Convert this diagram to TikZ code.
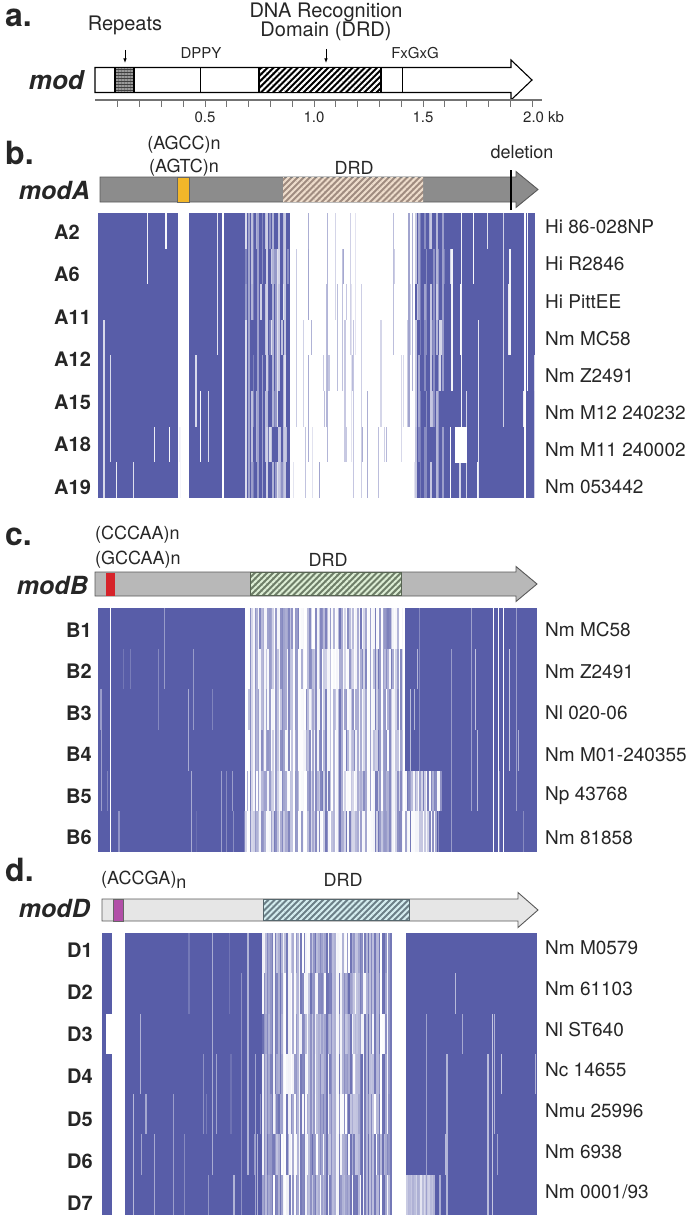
\documentclass[tikz,border=0pt]{standalone}
\usepackage{fontspec}
\setmainfont{TeX Gyre Heros}
\usetikzlibrary{arrows.meta,positioning,patterns.meta}

\definecolor{hmblue}{RGB}{88,93,168}
\definecolor{modAgray}{RGB}{140,140,140}
\definecolor{modBgray}{RGB}{184,184,184}
\definecolor{modDgray}{RGB}{230,230,230}
\definecolor{rptyellow}{RGB}{242,183,42}
\definecolor{rptred}{RGB}{214,35,42}
\definecolor{rptmagenta}{RGB}{178,79,168}
\definecolor{drdA}{RGB}{160,140,128}
\definecolor{drdAline}{RGB}{238,221,204}
\definecolor{drdB}{RGB}{110,126,104}
\definecolor{drdBline}{RGB}{221,238,213}
\definecolor{drdD}{RGB}{108,128,136}
\definecolor{drdDline}{RGB}{213,238,240}

% gene arrow: x0, head base, tip, y centre, body half, head half, style
\newcommand{\genearrow}[7]{%
  \draw[#7] (#1,{#4-#5}) -- (#2,{#4-#5}) -- (#2,{#4-#6}) -- (#3,#4)
    -- (#2,{#4+#6}) -- (#2,{#4+#5}) -- (#1,{#4+#5}) -- cycle;}

% alignment columns: x0, x1, y0, rows, row height, column width, level expression
\newcommand{\hmcells}[7]{%
  \pgfmathsetmacro{\hmnext}{#1+#6}%
  \pgfmathsetmacro{\hmlast}{#2-#6}%
  \foreach \cx in {#1,\hmnext,...,\hmlast} {
    \pgfmathsetmacro{\hmlev}{#7}
    \foreach \rr in {1,...,#4} {
      \pgfmathsetmacro{\hmv}{rnd<0.3 ? (#7) : \hmlev}
      \pgfmathtruncatemacro{\hmpc}{100*max(0,min(1,\hmv))}
      \fill[hmblue!\hmpc!white] (\cx,{#3+(\rr-1)*#5}) rectangle ++(#6,#5);
    }
  }}

% single lines: x0, x1, y0, rows, row height, count, level expression
\newcommand{\hmlines}[7]{%
  \foreach \ln in {1,...,#6} {
    \pgfmathsetmacro{\lx}{#1+rnd*(#2-#1)}
    \pgfmathtruncatemacro{\lr}{rnd*#4}
    \pgfmathtruncatemacro{\ls}{1+rnd*(#4-\lr)}
    \pgfmathsetmacro{\lw}{0.6+rnd}
    \pgfmathtruncatemacro{\lpc}{100*max(0,min(1,#7))}
    \fill[hmblue!\lpc!white] (\lx,{#3+\lr*#5}) rectangle ++(\lw,{\ls*#5});
  }}

\begin{document}
\begin{tikzpicture}[x=1pt, y=-1pt,
  lbl/.style={inner sep=0pt, text=black!85, font=\fontsize{18}{19}\selectfont},
  small/.style={lbl, font=\fontsize{15}{17}\selectfont},
  panel/.style={inner sep=0pt, anchor=west, text=black!85, font=\fontsize{32}{34}\selectfont\bfseries},
  gene/.style={inner sep=0pt, anchor=east, text=black!85, font=\fontsize{25}{27}\selectfont\bfseries\itshape},
  row/.style={inner sep=0pt, anchor=west, text=black!85, font=\fontsize{20}{22}\selectfont\bfseries},
  strain/.style={inner sep=0pt, anchor=west, text=black!85, font=\fontsize{19}{21}\selectfont},
  arr/.style={-{Latex[length=4.5pt,width=3.5pt]}, line width=0.8pt},
  hatch/.style={preaction={fill=#1}, pattern={Lines[angle=45,distance=4.3pt,line width=2pt]}},
  hstripe/.style={preaction={fill=#1}, pattern={Lines[angle=0,distance=3pt,line width=1.3pt]}}
]
  \useasboundingbox (0,0) rectangle (685,1220);
  \pgfmathsetseed{4711}

  % ---- a. mod
  \node[panel] (pa) at (5,18) {a.};
  \node[lbl, font=\fontsize{20}{22}\selectfont] (rep) at (125,25) {Repeats};
  \node[lbl, font=\fontsize{20}{19}\selectfont, align=center] (drdtxt) at (326,22) {DNA Recognition\\Domain (DRD)};
  \node[small] (dppy) at (201,53) {DPPY};
  \node[small] (fxgxg) at (415,53) {FxGxG};
  \node[gene, font=\fontsize{26}{28}\selectfont\bfseries\itshape] (mod) at (84,80) {mod};
  \genearrow{95}{511}{532}{80}{12.5}{20}{fill=white, line width=1.1pt}
  \path[hstripe=black!75, pattern color=black!40] (115,67.5) rectangle (134,92.5);
  \draw[line width=1.1pt] (115,67.5) rectangle (134,92.5);
  \draw[line width=1pt] (200,67.5) -- (200,92.5);
  \draw[line width=1pt] (402,67.5) -- (402,92.5);
  \path[hatch=black, pattern color=white] (259,67.5) rectangle (381,92.5);
  \draw[line width=1.1pt] (259,67.5) rectangle (381,92.5);
  \coordinate (repin) at (125,63);
  \coordinate (drdin) at (326,63);
  \draw[arr] (125,50) -- (repin);
  \draw[arr] (326,49) -- (drdin);
  % scale
  \draw[black!55, line width=2.5pt] (95,100) -- (542,100);
  \foreach \k in {1,...,20}
    \draw[black!55, line width=0.8pt] ({96+21.8*\k},100) -- ++(0,7);
  \node[small] (s05) at (205,117) {0.5};
  \node[small] (s10) at (314,117) {1.0};
  \node[small] (s15) at (423,117) {1.5};
  \node[small, anchor=west] (s20) at (523,117) {2.0 kb};

  % ---- b. modA
  \node[panel] (pb) at (5,153) {b.};
  \node[lbl] (agcc) at (184,145) {(AGCC)n};
  \node[lbl] (agtc) at (184,168) {(AGTC)n};
  \node[lbl] (drdb) at (354,168) {DRD};
  \node[lbl] (del) at (522,152) {deletion};
  \node[gene] (modA) at (90,190) {modA};
  \genearrow{100}{516}{538}{189.5}{12.5}{18}{fill=modAgray, draw=black!65, line width=0.9pt}
  \fill[rptyellow, draw=black!60, line width=0.6pt] (177,177) rectangle (189,202);
  \path[hatch=drdA, pattern color=drdAline] (283,177.5) rectangle (423,201.5);
  \draw[line width=2.5pt] (511,170) -- (511,210);
  % alignment
  \fill[hmblue] (98,213) rectangle (178,498);
  \fill[hmblue] (189,213) rectangle (222,498);
  \fill[hmblue] (224,213) rectangle (245,498);
  \hmcells{245}{290}{213}{8}{35.6}{1.5}{rnd<0.65 ? 1 : 0.15+0.7*rnd}
  \hmlines{290}{415}{213}{8}{35.6}{45}{0.12+0.45*rnd}
  \hmcells{415}{445}{213}{8}{35.6}{1.5}{rnd<0.6 ? 1 : 0.2+0.6*rnd}
  \fill[hmblue] (445,213) rectangle (535,498);
  \hmlines{98}{245}{213}{8}{35.6}{14}{0.25*rnd}
  \hmlines{445}{535}{213}{8}{35.6}{20}{0.3*rnd}
  \fill[white] (455,427.4) rectangle (467,463);
  \foreach \lab [count=\i from 0] in {A2,A6,A11,A12,A15,A18,A19}
    \node[row] (row\lab) at (54,{232+42.5*\i}) {\lab};
  \foreach \lab [count=\i from 0] in {Hi 86-028NP,Hi R2846,Hi PittEE,Nm MC58,Nm Z2491,Nm M12 240232,Nm M11 240002,Nm 053442}
    \node[strain] (strainA\i) at (545,{227+37.1*\i}) {\lab};

  % ---- c. modB
  \node[panel] (pc) at (5,537) {c.};
  \node[lbl, anchor=west] (cccaa) at (95,535) {(CCCAA)n};
  \node[lbl, anchor=west] (gccaa) at (95,560) {(GCCAA)n};
  \node[lbl] (drdc) at (328,560) {DRD};
  \node[gene] (modB) at (88,585) {modB};
  \genearrow{95}{516}{537}{584}{12}{17.5}{fill=modBgray, draw=black!65, line width=0.9pt}
  \fill[rptred] (106,572.5) rectangle (115,595.5);
  \path[hatch=drdB, pattern color=drdBline] (250,572.5) rectangle (401,595.5);
  \draw[drdB!80!black, line width=0.8pt] (250,572.5) rectangle (401,595.5);
  % alignment
  \fill[hmblue] (98,608) rectangle (245,852);
  \hmcells{245}{405}{608}{6}{40.67}{1.6}{rnd<0.4 ? 0.08*rnd : 0.25+0.6*rnd}
  \fill[hmblue] (405,608) rectangle (537,852);
  \hmcells{405}{443}{770.7}{1}{40.67}{1.6}{rnd<0.4 ? 0.08*rnd : 0.25+0.6*rnd}
  \hmcells{405}{438}{811.3}{1}{40.67}{1.6}{rnd<0.4 ? 0.08*rnd : 0.25+0.6*rnd}
  \hmlines{98}{245}{608}{6}{40.67}{18}{0.5+0.4*rnd}
  \hmlines{405}{537}{608}{6}{40.67}{14}{0.3+0.5*rnd}
  \foreach \wx in {110,493,498,503}
    \fill[white] (\wx,608) rectangle ++(1.2,244);
  \foreach \lab [count=\i from 0] in {B1,B2,B3,B4,B5,B6}
    \node[row] (row\lab) at (66,{630+41.5*\i}) {\lab};
  \foreach \lab [count=\i from 0] in {Nm MC58,Nm Z2491,Nl 020-06,Nm M01-240355,Np 43768,Nm 81858}
    \node[strain] (strainB\i) at (545,{630+41.5*\i}) {\lab};

  % ---- d. modD
  \node[panel] (pd) at (5,870) {d.};
  \node[lbl, anchor=west] (accga) at (101,880) {(ACCGA)\raisebox{-0.4ex}{n}};
  \node[lbl] (drdd) at (343,880) {DRD};
  \node[gene] (modD) at (90,908) {modD};
  \genearrow{102}{518}{538}{910}{11}{17.5}{fill=modDgray, draw=black!65, line width=0.9pt}
  \fill[rptmagenta, draw=black!60, line width=0.6pt] (113,899) rectangle (123,921);
  \path[hatch=drdD, pattern color=drdDline] (263,899.5) rectangle (409,920.5);
  \draw[drdD!80!black, line width=0.8pt] (263,899.5) rectangle (409,920.5);
  % alignment
  \fill[hmblue] (102,933) rectangle (112,1013.6);
  \fill[hmblue] (102,1013.6) rectangle (106,1053.9);
  \fill[hmblue] (102,1053.9) rectangle (112,1215);
  \fill[hmblue] (125,933) rectangle (262,1215);
  \hmcells{262}{393}{933}{7}{40.29}{1.6}{rnd<0.3 ? 0.1*rnd : 0.35+0.55*rnd}
  \fill[hmblue] (406,933) rectangle (537,1174.7);
  \fill[hmblue] (435,1174.7) rectangle (537,1215);
  \hmcells{406}{435}{1174.7}{1}{40.29}{1.6}{0.1+0.4*rnd}
  \hmlines{125}{262}{933}{7}{40.29}{22}{0.4+0.5*rnd}
  \hmlines{406}{537}{933}{7}{40.29}{12}{0.3+0.5*rnd}
  \foreach \lab [count=\i from 0] in {D1,D2,D3,D4,D5,D6,D7}
    \node[row] (row\lab) at (67,{950+42.2*\i}) {\lab};
  \foreach \lab [count=\i from 0] in {Nm M0579,Nm 61103,Nl ST640,Nc 14655,Nmu 25996,Nm 6938,Nm 0001/93}
    \node[strain] (strainD\i) at (545,{948+40.7*\i}) {\lab};
\end{tikzpicture}
\end{document}
